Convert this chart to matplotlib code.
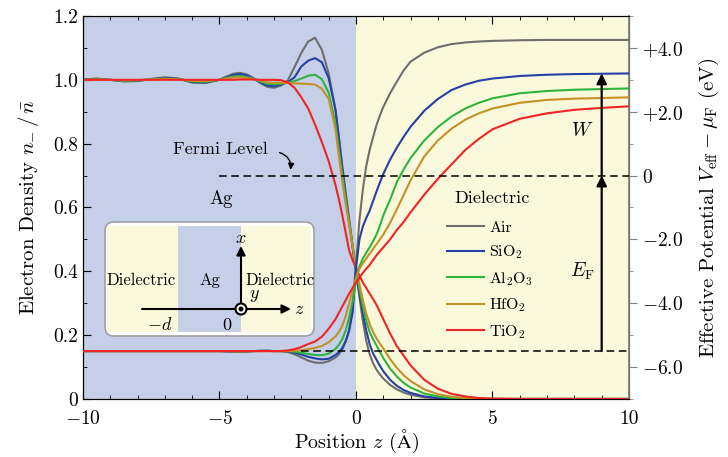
import numpy as np
import matplotlib.pyplot as plt
from matplotlib.patches import FancyBboxPatch, Rectangle, Circle

plt.rcParams['font.family'] = 'serif'
plt.rcParams['font.serif'] = ['cmr10']
plt.rcParams['mathtext.fontset'] = 'cm'
plt.rcParams['axes.formatter.use_mathtext'] = True

# position grid (Angstrom)
z = [-10, -9.5, -9, -8.5, -8, -7.5, -7, -6.5, -6, -5.5, -5,
     -4.75, -4.5, -4.25, -4, -3.75, -3.5, -3.25, -3, -2.75, -2.5,
     -2.25, -2, -1.75, -1.5, -1.25, -1, -0.75,
     -0.625, -0.5, -0.375, -0.25, -0.125, 0, 0.125, 0.25,
     0.375, 0.5, 0.625, 0.75, 0.875, 1, 1.25, 1.5, 1.75, 2,
     2.5, 3, 3.5, 4, 4.5, 5, 6, 7, 8, 9, 10]

materials = ['Air', 'SiO$_2$', 'Al$_2$O$_3$', 'HfO$_2$', 'TiO$_2$']
colors = ['#6e6e6e', '#2541a5', '#2eb43c', '#c39128', '#f02424']

# electron density n_-/n_bar
dens_air = [1.001, 1.004, 1.000, 0.995, 0.996, 1.003, 1.008, 1.004, 0.991, 0.990, 1.000,
            1.010, 1.019, 1.022, 1.017, 1.005, 0.990, 0.978, 0.975, 0.982, 0.998,
            1.040, 1.085, 1.120, 1.132, 1.094, 1.020, 0.905,
            0.820, 0.730, 0.645, 0.565, 0.480, 0.400, 0.320, 0.245,
            0.182, 0.140, 0.112, 0.092, 0.077, 0.064, 0.044, 0.030, 0.020, 0.013,
            0.005, 0.002, 0.001, 0, 0, 0, 0, 0, 0, 0, 0]
dens_sio2 = [1.001, 1.003, 1.000, 0.996, 0.997, 1.002, 1.006, 1.003, 0.993, 0.992, 1.000,
             1.008, 1.015, 1.018, 1.014, 1.004, 0.992, 0.982, 0.980, 0.985, 0.992,
             1.008, 1.042, 1.060, 1.068, 1.055, 1.005, 0.905,
             0.815, 0.720, 0.635, 0.555, 0.475, 0.400, 0.330, 0.268,
             0.215, 0.172, 0.143, 0.123, 0.104, 0.087, 0.060, 0.041, 0.028, 0.019,
             0.008, 0.003, 0.001, 0, 0, 0, 0, 0, 0, 0, 0]
dens_al2o3 = [1.000, 1.002, 1.000, 0.997, 0.998, 1.002, 1.004, 1.002, 0.995, 0.994, 1.000,
              1.006, 1.010, 1.012, 1.009, 1.003, 0.995, 0.988, 0.986, 0.988, 0.991,
              0.996, 1.004, 1.013, 1.016, 1.002, 0.960, 0.860,
              0.780, 0.700, 0.625, 0.550, 0.480, 0.410, 0.345, 0.290,
              0.245, 0.210, 0.187, 0.168, 0.148, 0.128, 0.095, 0.070, 0.050, 0.036,
              0.017, 0.008, 0.003, 0.001, 0, 0, 0, 0, 0, 0, 0]
dens_hfo2 = [1.000, 1.001, 1.000, 0.998, 0.999, 1.001, 1.003, 1.001, 0.997, 0.996, 1.000,
             1.004, 1.007, 1.008, 1.006, 1.002, 0.997, 0.992, 0.991, 0.991, 0.990,
             0.989, 0.988, 0.987, 0.985, 0.972, 0.940, 0.845,
             0.760, 0.680, 0.610, 0.545, 0.480, 0.420, 0.360, 0.310,
             0.268, 0.235, 0.210, 0.190, 0.173, 0.158, 0.125, 0.097, 0.074, 0.056,
             0.030, 0.015, 0.007, 0.003, 0.001, 0, 0, 0, 0, 0, 0]
dens_tio2 = [1.000, 1.000, 1.000, 1.000, 1.000, 1.000, 1.000, 1.000, 1.000, 1.000, 1.000,
             1.000, 1.000, 1.001, 1.001, 1.001, 1.000, 1.000, 1.000, 0.999, 0.992,
             0.975, 0.945, 0.910, 0.860, 0.805, 0.745, 0.670,
             0.625, 0.575, 0.520, 0.465, 0.435, 0.410, 0.387, 0.365,
             0.348, 0.330, 0.313, 0.295, 0.273, 0.250, 0.205, 0.165, 0.135, 0.105,
             0.060, 0.032, 0.016, 0.008, 0.003, 0.001, 0, 0, 0, 0, 0]

# effective potential V_eff - mu_F (eV)
pot_air = [-5.5, -5.5, -5.5, -5.5, -5.5, -5.5, -5.5, -5.5, -5.5, -5.5, -5.5,
           -5.51, -5.52, -5.52, -5.51, -5.5, -5.49, -5.49, -5.5, -5.5, -5.53,
           -5.6, -5.7, -5.8, -5.86, -5.87, -5.82, -5.7,
           -5.6, -5.45, -5.2, -4.85, -4.1, -2.8, -1.4, -0.45,
           0.3, 0.8, 1.2, 1.58, 1.88, 2.15, 2.58, 2.95, 3.3, 3.57,
           3.85, 4.02, 4.12, 4.17, 4.2, 4.22, 4.24, 4.25, 4.25, 4.25, 4.25]
pot_sio2 = [-5.5, -5.5, -5.5, -5.5, -5.5, -5.5, -5.5, -5.5, -5.5, -5.5, -5.5,
            -5.51, -5.51, -5.52, -5.51, -5.5, -5.49, -5.49, -5.5, -5.5, -5.51,
            -5.55, -5.61, -5.68, -5.73, -5.76, -5.74, -5.62,
            -5.53, -5.4, -5.18, -4.85, -4.3, -2.9, -2.0, -1.6,
            -1.33, -1.1, -0.8, -0.5, -0.22, 0.05, 0.5, 0.88, 1.22, 1.53,
            2.03, 2.4, 2.68, 2.85, 2.97, 3.04, 3.12, 3.16, 3.18, 3.19, 3.2]
pot_al2o3 = [-5.5, -5.5, -5.5, -5.5, -5.5, -5.5, -5.5, -5.5, -5.5, -5.5, -5.5,
             -5.5, -5.51, -5.51, -5.51, -5.5, -5.5, -5.49, -5.5, -5.5, -5.5,
             -5.52, -5.55, -5.59, -5.62, -5.63, -5.58, -5.43,
             -5.3, -5.12, -4.85, -4.45, -3.95, -3.3, -2.85, -2.6,
             -2.42, -2.25, -2.06, -1.85, -1.57, -1.25, -0.75, -0.2, 0.2, 0.55,
             1.1, 1.52, 1.85, 2.1, 2.28, 2.42, 2.58, 2.65, 2.69, 2.71, 2.73]
pot_hfo2 = [-5.5, -5.5, -5.5, -5.5, -5.5, -5.5, -5.5, -5.5, -5.5, -5.5, -5.5,
            -5.5, -5.5, -5.51, -5.5, -5.5, -5.5, -5.5, -5.5, -5.5, -5.5,
            -5.49, -5.47, -5.44, -5.4, -5.34, -5.22, -5.04,
            -4.9, -4.7, -4.4, -4.0, -3.6, -3.2, -2.93, -2.75,
            -2.6, -2.45, -2.3, -2.15, -2.0, -1.85, -1.48, -1.05, -0.6, -0.15,
            0.6, 1.1, 1.47, 1.75, 1.95, 2.1, 2.28, 2.37, 2.41, 2.43, 2.45]
pot_tio2 = [-5.5, -5.5, -5.5, -5.5, -5.5, -5.5, -5.5, -5.5, -5.5, -5.5, -5.5,
            -5.5, -5.5, -5.5, -5.5, -5.5, -5.5, -5.5, -5.5, -5.5, -5.48,
            -5.44, -5.37, -5.28, -5.2, -5.05, -4.8, -4.5,
            -4.3, -4.1, -3.9, -3.7, -3.52, -3.35, -3.2, -3.05,
            -2.92, -2.8, -2.65, -2.5, -2.37, -2.25, -2.0, -1.7, -1.45, -1.15,
            -0.6, -0.1, 0.35, 0.8, 1.15, 1.45, 1.78, 1.95, 2.06, 2.12, 2.17]

densities = [dens_air, dens_sio2, dens_al2o3, dens_hfo2, dens_tio2]
potentials = [pot_air, pot_sio2, pot_al2o3, pot_hfo2, pot_tio2]

e_fermi = 5.5
work_fn = 3.2  # SiO2 plateau

fig = plt.figure(figsize=(7.28, 4.57), dpi=100)
ax = fig.add_axes([0.114, 0.127, 0.75, 0.838])
ax2 = ax.twinx()

ax.axvspan(-10, 0, color='#c5d0e8', lw=0, zorder=0)
ax.axvspan(0, 10, color='#fbf9dc', lw=0, zorder=0)

handles = []
for d, c, m in zip(densities, colors, materials):
    h, = ax.plot(z, d, color=c, lw=1.5, label=m, zorder=3)
    handles.append(h)
for p, c in zip(potentials, colors):
    ax2.plot(z, p, color=c, lw=1.5, zorder=3)

ax.set_xlim(-10, 10)
ax.set_ylim(0, 1.2)
ax2.set_ylim(-7, 5)

ax.set_xticks([-10, -5, 0, 5, 10])
ax.set_xticklabels([r'$-10$', r'$-5$', '0', '5', '10'])
ax.set_xticks(np.arange(-10, 11, 1), minor=True)
ax.set_yticks([0, 0.2, 0.4, 0.6, 0.8, 1.0, 1.2])
ax.set_yticklabels(['0', '0.2', '0.4', '0.6', '0.8', '1.0', '1.2'])
ax.set_yticks(np.arange(0, 1.21, 0.1), minor=True)
ax.tick_params(which='both', direction='in', top=True, right=False, labelsize=14)
ax.tick_params(which='major', length=6)
ax.tick_params(which='minor', length=3)
ax.tick_params(axis='x', pad=8)

ax2.set_yticks([-6, -4, -2, 0, 2, 4])
ax2.set_yticklabels([r'$-6.0$', r'$-4.0$', r'$-2.0$', '0', r'$+2.0$', r'$+4.0$'])
ax2.set_yticks(np.arange(-7, 5.1, 1), minor=True)
ax2.tick_params(which='both', direction='out', color='#808080', labelsize=14)
ax2.tick_params(which='major', length=6)
ax2.tick_params(which='minor', length=3)
ax2.spines['right'].set_color('#808080')
ax2.spines['right'].set_linewidth(1.3)

ax.set_xlabel(r'Position $z$ $(\mathrm{\AA})$', fontsize=14.5, labelpad=0)
ax.set_ylabel(r'Electron Density $n_{-}\,/\,\bar{n}$', fontsize=15, labelpad=9)
ax2.set_ylabel(r'Effective Potential $V_{\rm eff}-\mu_{\rm F}$ (eV)', fontsize=15, labelpad=10)

# reference levels
ax2.hlines(0, -5, 10, colors='k', linestyles=(0, (5, 3)), lw=1.1, zorder=4)
ax2.hlines(-e_fermi, -2, 10, colors='k', linestyles=(0, (5, 3)), lw=1.1, zorder=4)

ax2.annotate('', xy=(9, 0), xytext=(9, -e_fermi),
             arrowprops=dict(arrowstyle='-|>', color='k', lw=1.6, mutation_scale=15,
                             shrinkA=0, shrinkB=0))
ax2.annotate('', xy=(9, work_fn), xytext=(9, 0),
             arrowprops=dict(arrowstyle='-|>', color='k', lw=1.6, mutation_scale=15,
                             shrinkA=0, shrinkB=0))
ax2.text(8.3, -3.0, r'$E_{\rm F}$', fontsize=14, ha='center', va='center')
ax2.text(8.3, 1.4, r'$W$', fontsize=14, ha='center', va='center')

ax.text(-4.95, 0.783, 'Fermi Level', fontsize=13, ha='center', va='center')
ax.annotate('', xy=(-2.4, 0.718), xytext=(-2.8, 0.772),
            arrowprops=dict(arrowstyle='-|>', color='k', lw=1.0, mutation_scale=9,
                            connectionstyle='arc3,rad=-0.4', shrinkA=0, shrinkB=0))
ax.text(-4.95, 0.628, 'Ag', fontsize=13.5, ha='center', va='center')

ax.text(4.98, 0.628, 'Dielectric', fontsize=13, ha='center', va='center')
leg = ax.legend(handles=handles, frameon=False, fontsize=11.5,
                loc='upper left', bbox_to_anchor=(0.64, 0.504),
                handlelength=2.3, labelspacing=0.55, handletextpad=0.35)

# inset schematic (pixel units)
ins = fig.add_axes([103 / 728, (457 - 338) / 457, 213 / 728, 118 / 457])
ins.set_xlim(0, 213)
ins.set_ylim(118, 0)
ins.axis('off')
ins.add_patch(FancyBboxPatch((2, 2), 209, 114, boxstyle='round,pad=0,rounding_size=9',
                             fc='white', ec='#a0a0a0', lw=1.2))
ins.add_patch(Rectangle((4, 6), 71, 106, fc='#fbf9dc', lw=0))
ins.add_patch(Rectangle((75, 6), 63, 106, fc='#c5d0e8', lw=0))
ins.add_patch(Rectangle((138, 6), 70, 106, fc='#fbf9dc', lw=0))
ins.annotate('', xy=(188, 89), xytext=(39, 89),
             arrowprops=dict(arrowstyle='-|>', color='k', lw=1.5, mutation_scale=13,
                             shrinkA=0, shrinkB=0))
ins.annotate('', xy=(138, 26), xytext=(138, 89),
             arrowprops=dict(arrowstyle='-|>', color='k', lw=1.5, mutation_scale=13,
                             shrinkA=0, shrinkB=0))
ins.add_patch(Circle((138, 89), 5.5, fc='white', ec='k', lw=1.5, zorder=5))
ins.add_patch(Circle((138, 89), 1.8, fc='k', ec='k', zorder=6))
ins.text(38, 60, 'Dielectric', fontsize=12, ha='center', va='center')
ins.text(107, 60, 'Ag', fontsize=12, ha='center', va='center')
ins.text(177, 60, 'Dielectric', fontsize=12, ha='center', va='center')
ins.text(138, 18, r'$x$', fontsize=13, ha='center', va='center')
ins.text(151, 76, r'$y$', fontsize=13, ha='center', va='center')
ins.text(196, 89, r'$z$', fontsize=13, ha='center', va='center')
ins.text(57, 105, r'$-d$', fontsize=13, ha='center', va='center')
ins.text(124, 105, r'$0$', fontsize=13, ha='center', va='center')

fig.savefig('out.png', dpi=100)
